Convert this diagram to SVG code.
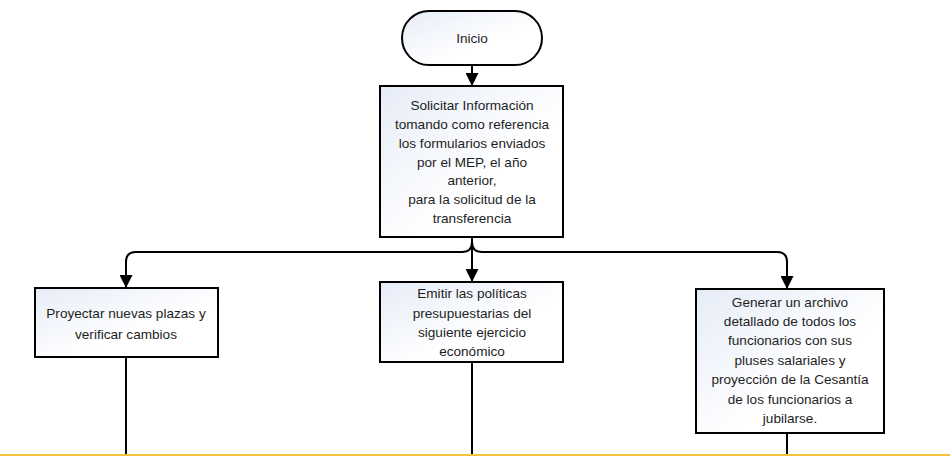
<svg xmlns="http://www.w3.org/2000/svg" width="950" height="456" viewBox="0 0 950 456">
<style>
.box{fill:url(#g);stroke:#000;stroke-width:2}
.t{font-family:"Liberation Sans",Arial,sans-serif;font-size:13.6px;fill:#1e1e1e;text-anchor:middle}
.c{fill:none;stroke:#000;stroke-width:2}
</style>
<defs>
<linearGradient id="g" x1="0" y1="0" x2="1" y2="1">
<stop offset="0" stop-color="#E6ECF7"/>
<stop offset="0.6" stop-color="#FFFFFF"/>
</linearGradient>
<marker id="ad" markerWidth="13" markerHeight="14" refX="6.5" refY="13" orient="0" markerUnits="userSpaceOnUse" viewBox="0 0 13 14">
<path d="M0,0 L13,0 L6.5,13 Z" fill="#000"/>
</marker>
</defs>
<rect width="950" height="456" fill="#fff"/>
<g id="connectors">
<path class="c" d="M472,65 V86" marker-end="url(#ad)"/>
<path class="c" d="M472,237 V282" marker-end="url(#ad)"/>
<path class="c" d="M472,237 V242 Q472,252 462,252 H136 Q126,252 126,262 V288" marker-end="url(#ad)"/>
<path class="c" d="M472,237 V242 Q472,252 482,252 H777 Q787,252 787,262 V289" marker-end="url(#ad)"/>
<path class="c" d="M126,357 V456"/>
<path class="c" d="M472,362 V456"/>
<path class="c" d="M787,433 V456"/>
</g>
<line x1="0" y1="455" x2="950" y2="455" stroke="#F8C23A" stroke-width="2"/>
<g id="inicio">
<rect class="box" x="402" y="11" width="140" height="54" rx="27"/>
<text class="t" x="472" y="43">Inicio</text>
</g>
<g id="solicitar">
<rect class="box" x="380" y="86" width="183" height="151"/>
<text class="t" x="472" y="110">Solicitar Información</text>
<text class="t" x="472" y="129">tomando como referencia</text>
<text class="t" x="472" y="148">los formularios enviados</text>
<text class="t" x="472" y="167">por el MEP, el año</text>
<text class="t" x="472" y="185">anterior,</text>
<text class="t" x="472" y="204">para la solicitud de la</text>
<text class="t" x="472" y="223">transferencia</text>
</g>
<g id="proyectar">
<rect class="box" x="35" y="288" width="183" height="69"/>
<text class="t" x="126" y="318">Proyectar nuevas plazas y</text>
<text class="t" x="126" y="339">verificar cambios</text>
</g>
<g id="emitir">
<rect class="box" x="380" y="282" width="183" height="80"/>
<text class="t" x="472" y="298">Emitir las políticas</text>
<text class="t" x="472" y="318">presupuestarias del</text>
<text class="t" x="472" y="337">siguiente ejercicio</text>
<text class="t" x="472" y="356">económico</text>
</g>
<g id="generar">
<rect class="box" x="696" y="289" width="188" height="144"/>
<text class="t" x="790" y="307">Generar un archivo</text>
<text class="t" x="790" y="326">detallado de todos los</text>
<text class="t" x="790" y="345">funcionarios con sus</text>
<text class="t" x="790" y="365">pluses salariales y</text>
<text class="t" x="790" y="384">proyección de la Cesantía</text>
<text class="t" x="790" y="404">de los funcionarios a</text>
<text class="t" x="790" y="423">jubilarse.</text>
</g>
</svg>
